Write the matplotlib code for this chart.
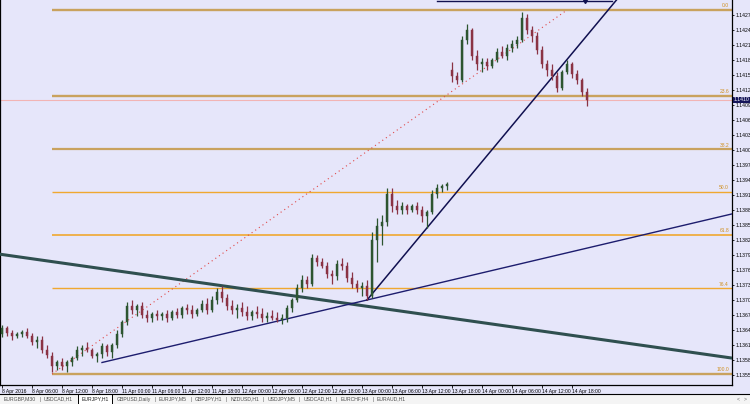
import numpy as np
import matplotlib
matplotlib.use("Agg")
import matplotlib.pyplot as plt
from matplotlib.patches import Rectangle
from matplotlib.lines import Line2D

plt.rcParams["font.family"] = ["Liberation Sans", "DejaVu Sans"]

# ---------------- data (prices in points of 1e-5) ----------------
open_pts = [113632, 113644, 113634, 113628, 113632, 113636, 113628, 113616, 113620, 113600,
            113588, 113568, 113576, 113568, 113576, 113584, 113600, 113604, 113600, 113588,
            113592, 113608, 113596, 113610, 113632, 113656, 113688, 113680, 113688, 113670,
            113664, 113672, 113668, 113672, 113664, 113676, 113670, 113684, 113680, 113672,
            113680, 113692, 113680, 113700, 113716, 113704, 113688, 113680, 113684, 113676,
            113668, 113676, 113672, 113664, 113668, 113664, 113660, 113664, 113684, 113700,
            113724, 113740, 113732, 113784, 113776, 113768, 113752, 113748, 113772, 113768,
            113744, 113732, 113724, 113728, 113708, 113820, 113848, 113856, 113912, 113888,
            113880, 113888, 113880, 113888, 113880, 113868, 113876, 113912, 113924, 113928,
            114160, 114148, 114140, 114220, 114240, 114188, 114172, 114176, 114168, 114180,
            114196, 114188, 114204, 114212, 114220, 114264, 114240, 114228, 114200, 114172,
            114160, 114148, 114124, 114156, 114172, 114152, 114140, 114116]
high_pts = [113650, 113648, 113640, 113636, 113640, 113644, 113634, 113628, 113628, 113610,
            113596, 113580, 113584, 113580, 113588, 113608, 113610, 113616, 113604, 113596,
            113614, 113612, 113614, 113640, 113660, 113696, 113700, 113692, 113696, 113680,
            113676, 113680, 113676, 113680, 113680, 113684, 113688, 113692, 113690, 113684,
            113700, 113704, 113708, 113724, 113728, 113712, 113700, 113692, 113696, 113688,
            113680, 113688, 113684, 113676, 113680, 113676, 113672, 113690, 113704, 113732,
            113750, 113748, 113792, 113790, 113784, 113776, 113760, 113780, 113784, 113776,
            113756, 113740, 113736, 113740, 113836, 113864, 113870, 113924, 113924, 113900,
            113896, 113892, 113892, 113896, 113888, 113880, 113920, 113932, 113932, 113936,
            114176, 114156, 114228, 114252, 114244, 114200, 114184, 114184, 114184, 114204,
            114208, 114212, 114220, 114228, 114276, 114272, 114248, 114236, 114208, 114180,
            114172, 114156, 114160, 114180, 114176, 114160, 114144, 114124]
low_pts = [113626, 113628, 113620, 113624, 113626, 113624, 113610, 113604, 113594, 113584,
           113556, 113560, 113560, 113556, 113568, 113580, 113588, 113596, 113584, 113576,
           113584, 113588, 113584, 113604, 113626, 113650, 113672, 113668, 113664, 113656,
           113656, 113660, 113660, 113656, 113660, 113664, 113664, 113672, 113664, 113668,
           113676, 113672, 113676, 113692, 113696, 113680, 113672, 113664, 113668, 113660,
           113660, 113664, 113656, 113656, 113660, 113656, 113652, 113656, 113676, 113696,
           113716, 113724, 113728, 113768, 113764, 113744, 113732, 113740, 113760, 113736,
           113724, 113716, 113708, 113700, 113704, 113776, 113810, 113848, 113876, 113872,
           113872, 113872, 113876, 113872, 113856, 113844, 113872, 113904, 113916, 113920,
           114136, 114132, 114136, 114212, 114180, 114160, 114156, 114160, 114164, 114176,
           114184, 114180, 114196, 114204, 114216, 114232, 114216, 114192, 114164, 114148,
           114140, 114116, 114120, 114152, 114144, 114132, 114108, 114088]
close_pts = [113644, 113634, 113628, 113632, 113636, 113628, 113616, 113620, 113600, 113590,
             113568, 113576, 113568, 113576, 113584, 113600, 113604, 113600, 113588, 113592,
             113608, 113596, 113610, 113632, 113656, 113688, 113680, 113688, 113670, 113664,
             113672, 113668, 113672, 113664, 113676, 113670, 113684, 113680, 113672, 113680,
             113692, 113680, 113700, 113716, 113704, 113688, 113680, 113684, 113676, 113668,
             113676, 113672, 113664, 113668, 113664, 113660, 113664, 113684, 113700, 113724,
             113740, 113732, 113784, 113776, 113768, 113752, 113748, 113772, 113768, 113744,
             113732, 113724, 113728, 113708, 113820, 113848, 113856, 113912, 113888, 113880,
             113888, 113880, 113888, 113880, 113868, 113876, 113912, 113924, 113928, 113932,
             114148, 114140, 114220, 114240, 114188, 114172, 114176, 114168, 114180, 114196,
             114188, 114204, 114212, 114220, 114264, 114240, 114228, 114200, 114172, 114160,
             114148, 114124, 114156, 114172, 114152, 114140, 114116, 114100]

time_labels = ["8 Apr 2016", "8 Apr 06:00", "8 Apr 12:00", "8 Apr 18:00", "11 Apr 00:00",
               "11 Apr 06:00", "11 Apr 12:00", "11 Apr 18:00", "12 Apr 00:00", "12 Apr 06:00",
               "12 Apr 12:00", "12 Apr 18:00", "13 Apr 00:00", "13 Apr 06:00", "13 Apr 12:00",
               "13 Apr 18:00", "14 Apr 00:00", "14 Apr 06:00", "14 Apr 12:00", "14 Apr 18:00"]
label_every = 6

# Fibonacci retracement anchors (bar index, price)
fib_anchor_low = (10, 1.13552)
fib_anchor_high = (113, 1.14280)
fib_levels = [0.0, 0.236, 0.382, 0.5, 0.618, 0.764, 1.0]
fib_texts = ["0.0", "23.6", "38.2", "50.0", "61.8", "76.4", "100.0"]

# trend lines: (bar, price) anchor pairs
thick_line = [(0, 1.13791), (117, 1.13625)]
support_ray = [(20, 1.13575), (73, 1.13700)]
steep_ray = [(73, 1.13700), (113, 1.14181)]
top_line = [(87, 1.14297), (122, 1.14297)]

tabs = ["EURGBP,M30", "USDCAD,H1", "EURJPY,H1", "GBPUSD,Daily", "EURJPY,M5", "GBPJPY,H1",
        "NZDUSD,H1", "USDJPY,M5", "USDCAD,H1", "EURCHF,H4", "EURAUD,H1"]
active_tab = 2

# ---------------- figure ----------------
W, H = 750, 404
BG = "#E6E6FA"
fig = plt.figure(figsize=(W / 100, H / 100), dpi=100)
fig.patch.set_facecolor(BG)

ax_left, ax_right, ax_bottom, ax_top = 0, 732, 19, 404
ax = fig.add_axes([ax_left / W, ax_bottom / H, (ax_right - ax_left) / W, (ax_top - ax_bottom) / H])
ax.set_facecolor(BG)

o = np.array(open_pts) * 1e-5
h = np.array(high_pts) * 1e-5
l = np.array(low_pts) * 1e-5
c = np.array(close_pts) * 1e-5
n = len(o)
x = np.arange(n)

x_lo, x_hi = -0.4, 146.0
y_lo, y_hi = 1.13530, 1.14300
ax.set_xlim(x_lo, x_hi)
ax.set_ylim(y_lo, y_hi)

# Fibonacci levels
fib_colors = ["#C9A25E", "#C9A25E", "#C9A25E", "#F0A830", "#F0A830", "#F0A830", "#C9A25E"]
fib_lw = [1.7, 1.7, 1.6, 1.0, 1.2, 1.0, 1.7]
f_hi = fib_anchor_high[1]
f_lo = fib_anchor_low[1]
for lev, txt, col, lw in zip(fib_levels, fib_texts, fib_colors, fib_lw):
    p = f_hi + (f_lo - f_hi) * lev
    ax.hlines(p, fib_anchor_low[0], x_hi, color=col, lw=lw, zorder=2)
    ax.text(x_hi - 0.6, p + 0.00003, txt, color="#D09020", fontsize=3.6,
            ha="right", va="bottom", zorder=3)
ax.plot([fib_anchor_low[0], fib_anchor_high[0]], [fib_anchor_low[1], fib_anchor_high[1]],
        color="#E04848", lw=0.8, linestyle=(0, (1, 3)), zorder=2)

# current price (bid) line
ax.axhline(c[-1], color="#F2B4B4", lw=0.8, zorder=1)

# thick trend line
ax.axline(thick_line[0], thick_line[1], color="#2F4F4F", lw=2.2, zorder=4)

def ray(anchors, color, lw):
    (x1, y1), (x2, y2) = anchors
    slope = (y2 - y1) / (x2 - x1)
    ax.plot([x1, x_hi], [y1, y1 + slope * (x_hi - x1)], color=color, lw=lw, zorder=4)

ray(support_ray, "#1C1C6E", 1.0)
ray(steep_ray, "#101050", 1.1)
ax.plot([p[0] for p in top_line], [p[1] for p in top_line], color="#101050", lw=1.0, zorder=4)
ax.plot([116.6], [top_line[0][1]], marker="v", color="#101050", ms=3, zorder=4)

# candles
up = c >= o
body_lo = np.minimum(o, c)
body_h = np.maximum(np.abs(c - o), 0.000012)
col_up, col_dn = "#2D5530", "#8A3344"
colors = np.where(up, col_up, col_dn)
ax.vlines(x, l, h, colors=colors, lw=0.9, zorder=5)
ax.bar(x, body_h, bottom=body_lo, width=0.48, color=colors, edgecolor=colors, lw=0.3, zorder=6)

# axes styling
ax.spines["top"].set_visible(False)
for s in ["left", "right", "bottom"]:
    ax.spines[s].set_color("black")
    ax.spines[s].set_linewidth(0.9)

ax.yaxis.tick_right()
step = 0.0003
yt = [round(y_hi - k * step, 4) for k in range(1, 30) if y_hi - k * step > y_lo + 0.00005]
ax.set_yticks(yt)
ax.set_yticklabels([f"{v:.4f}" for v in yt])
ax.tick_params(axis="y", labelsize=3.7, length=1.5, width=0.6, pad=1.0, colors="black")

xt = list(range(0, n, label_every))[:len(time_labels)]
ax.set_xticks(xt)
ax.set_xticklabels(time_labels[:len(xt)], ha="left")
ax.tick_params(axis="x", labelsize=3.6, length=2, width=0.6, pad=1.0, colors="black")

# current price label
ax.annotate(f"{c[-1]:.4f}", xy=(1.0, c[-1]), xycoords=("axes fraction", "data"),
            xytext=(1.2, 0), textcoords="offset points", fontsize=3.7, color="white",
            va="center", ha="left", annotation_clip=False,
            bbox=dict(boxstyle="square,pad=0.15", fc="#14145A", ec="none"), zorder=10)

# bottom tab bar
tab_h = 10
fig.add_artist(Rectangle((0, 0), 1, tab_h / H, transform=fig.transFigure,
                         facecolor="#F4F4F4", edgecolor="none", zorder=0))
fig.add_artist(Line2D([0, 1], [tab_h / H, tab_h / H], transform=fig.transFigure,
                      color="black", lw=0.8))
renderer = fig.canvas.get_renderer()
cx = 4.0
for k, name in enumerate(tabs):
    t = fig.text(cx / W, 4.8 / H, name, fontsize=3.7, ha="left", va="center",
                 color="#202020" if k == active_tab else "#505050")
    w = t.get_window_extent(renderer).width
    if k == active_tab:
        fig.add_artist(Rectangle(((cx - 3) / W, 0.5 / H), (w + 6) / W, (tab_h - 0.5) / H,
                                 transform=fig.transFigure, facecolor="white",
                                 edgecolor="black", lw=0.7, zorder=0.5))
    cx += w + 4
    if k < len(tabs) - 1 and k != active_tab and k + 1 != active_tab:
        fig.text(cx / W, 4.8 / H, "|", fontsize=3.7, ha="center", va="center", color="#606060")
    cx += 4
fig.text(738 / W, 4.8 / H, "<", fontsize=3.7, ha="center", va="center", color="#707070")
fig.text(745 / W, 4.8 / H, ">", fontsize=3.7, ha="center", va="center", color="#707070")

fig.savefig("out.png", dpi=100, facecolor=fig.get_facecolor())
